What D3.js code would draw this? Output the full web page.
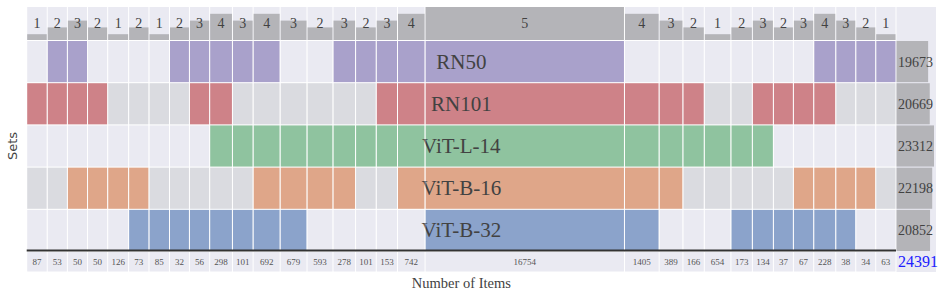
<!DOCTYPE html>
<html>
<head>
<meta charset="utf-8">
<script src="https://cdn.jsdelivr.net/npm/d3@7"></script>
<style>
  body { margin: 0; background: #fff; }
  text { font-family: "Liberation Serif", serif; }
</style>
</head>
<body>
<div id="viz"></div>
<script>
// sets, their sizes and the chunk (intersection) sizes, left to right
const sets = ['RN50', 'RN101', 'ViT-L-14', 'ViT-B-16', 'ViT-B-32'];
const setSizes = [19673, 20669, 23312, 22198, 20852];
const chunkSizes = [87, 53, 50, 50, 126, 73, 85, 32, 56, 298, 101, 692, 679, 593, 278,
    101, 153, 742, 16754, 1405, 389, 166, 654, 173, 134, 37, 67, 228, 38, 34, 63];
// one string per set, '1' = chunk belongs to that set
const membership = [
    '0110000111110011111000000001111',
    '1111000011000000111111001111000',
    '0000000001111111111111111000000',
    '0011110000011110011110000011110',
    '0000011111111000001100011111100'
];
const totalItems = 24391;
const setColors = ['#a9a1cb', '#ce8288', '#8fc39f', '#dfa689', '#8ba3cb'];

const W = 942, H = 298;
const svg = d3.select('#viz').append('svg')
    .attr('width', W)
    .attr('height', H);

const plotLeft = 26.7, plotRight = 896, plotTop = 7, rowsTop = 41, rowsBottom = 251;

// balance widths so the smallest chunk is 1/10 of the largest
const balance = d3.scaleLinear()
    .domain([d3.min(chunkSizes), d3.max(chunkSizes)])
    .range([0.1 * d3.max(chunkSizes), d3.max(chunkSizes)]);
const widths = chunkSizes.map(balance);
const starts = [];
let acc = 0;
widths.forEach(w => { starts.push(acc); acc += w; });

const x = d3.scaleLinear().domain([0, acc]).range([plotLeft, plotRight]);
const y = d3.scaleBand().domain(sets).range([rowsTop, rowsBottom]).paddingInner(0.025);
const countY = d3.scaleLinear().domain([0, 5]).range([rowsTop, plotTop]);
const sizeX = d3.scaleLinear().domain([0, d3.max(setSizes)]).range([0, 37.5]);

const counts = chunkSizes.map((d, i) => d3.sum(membership, m => +m[i]));
const cols = chunkSizes.map((d, i) => ({
    size: d, count: counts[i],
    x0: x(starts[i]), x1: x(starts[i] + widths[i])
}));

const light = '#eaeaf2', grey = '#dadbe0', barGrey = '#b4b4b8', ink = '#424242';

// top strip: number of sets per chunk
const topG = svg.append('g');
topG.selectAll('rect.bg').data(cols).enter().append('rect')
    .attr('x', d => d.x0 + 0.5).attr('width', d => d.x1 - d.x0 - 1)
    .attr('y', plotTop).attr('height', rowsTop - 1 - plotTop)
    .attr('fill', light);
topG.selectAll('rect.bar').data(cols).enter().append('rect')
    .attr('x', d => d.x0 + 0.5).attr('width', d => d.x1 - d.x0 - 1)
    .attr('y', d => countY(d.count))
    .attr('height', d => rowsTop - 1 - countY(d.count))
    .attr('fill', barGrey);
topG.selectAll('text').data(cols).enter().append('text')
    .attr('x', d => (d.x0 + d.x1) / 2).attr('y', 28)
    .attr('text-anchor', 'middle')
    .attr('font-size', 14).attr('fill', ink)
    .text(d => d.count);

// matrix rows
sets.forEach((s, r) => {
    const g = svg.append('g');
    g.selectAll('rect').data(cols).enter().append('rect')
        .attr('x', d => d.x0 + 0.5).attr('width', d => d.x1 - d.x0 - 1)
        .attr('y', y(s)).attr('height', y.bandwidth())
        .attr('fill', (d, i) => membership[r][i] === '1' ? setColors[r] : (r % 2 ? grey : light));
    g.append('text')
        .attr('x', (plotLeft + plotRight) / 2)
        .attr('y', y(s) + y.bandwidth() / 2 + 7)
        .attr('text-anchor', 'middle')
        .attr('font-size', 21).attr('fill', ink)
        .text(s);
});

// right column: set sizes
svg.append('rect')
    .attr('x', plotRight + 0.5).attr('width', 39.5)
    .attr('y', plotTop).attr('height', 272 - plotTop)
    .attr('fill', light);
svg.selectAll('rect.size').data(setSizes).enter().append('rect')
    .attr('x', plotRight + 0.5)
    .attr('y', (d, i) => y(sets[i]))
    .attr('width', d => sizeX(d))
    .attr('height', y.bandwidth())
    .attr('fill', barGrey);
svg.selectAll('text.size').data(setSizes).enter().append('text')
    .attr('x', plotRight + 2)
    .attr('y', (d, i) => y(sets[i]) + y.bandwidth() / 2 + 5)
    .attr('font-size', 14).attr('fill', ink)
    .text(d => d);

// bottom counts
const botG = svg.append('g');
botG.selectAll('rect').data(cols).enter().append('rect')
    .attr('x', d => d.x0 + 0.5).attr('width', d => d.x1 - d.x0 - 1)
    .attr('y', 252).attr('height', 19.5)
    .attr('fill', light);
botG.selectAll('text').data(cols).enter().append('text')
    .attr('x', d => (d.x0 + d.x1) / 2).attr('y', 264.5)
    .attr('text-anchor', 'middle')
    .attr('font-size', 9).attr('fill', '#555')
    .text(d => d.size);
svg.append('text')
    .attr('x', plotRight + 2).attr('y', 266.5)
    .attr('font-size', 16).attr('fill', '#2020ff')
    .text(totalItems);

// white column separators over everything
svg.selectAll('line.sep').data(cols.slice(1)).enter().append('line')
    .attr('x1', d => d.x0).attr('x2', d => d.x0)
    .attr('y1', rowsTop).attr('y2', rowsBottom)
    .attr('stroke', '#fff').attr('stroke-opacity', 0.45).attr('stroke-width', 1);

// axis line
svg.append('line')
    .attr('x1', plotLeft).attr('x2', plotRight)
    .attr('y1', 250.5).attr('y2', 250.5)
    .attr('stroke', '#333').attr('stroke-width', 2);

svg.append('text')
    .attr('x', (plotLeft + plotRight) / 2).attr('y', 288)
    .attr('text-anchor', 'middle')
    .attr('font-size', 14.5).attr('fill', ink)
    .text('Number of Items');

svg.append('text')
    .attr('transform', `translate(17,${(rowsTop + rowsBottom) / 2}) rotate(-90)`)
    .attr('text-anchor', 'middle')
    .style('font-family', '"DejaVu Sans", sans-serif')
    .attr('font-size', 13).attr('fill', '#444')
    .text('Sets');
</script>
</body>
</html>
